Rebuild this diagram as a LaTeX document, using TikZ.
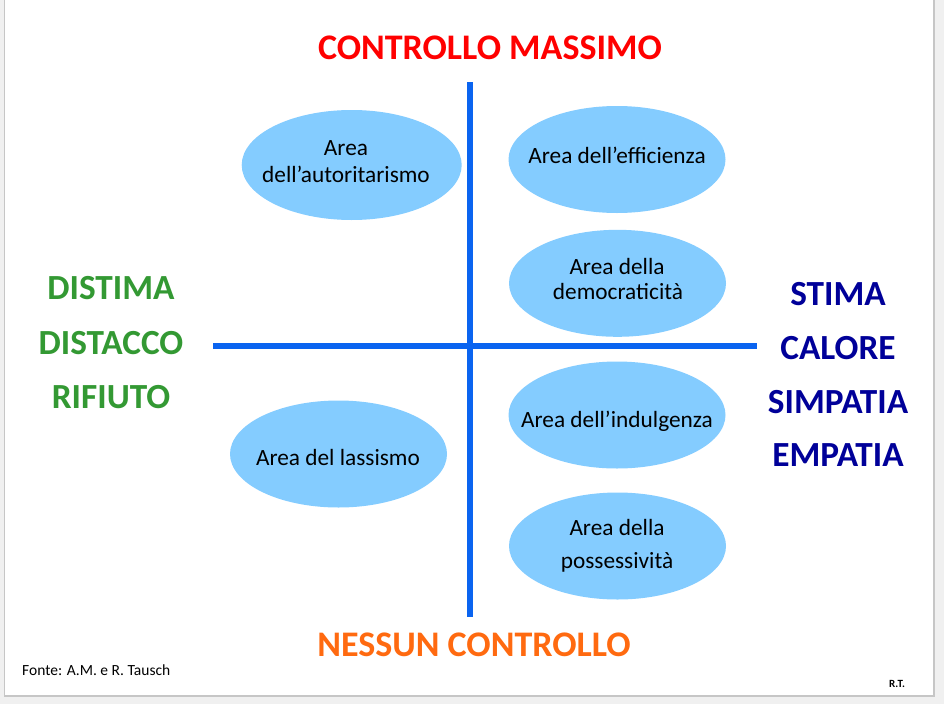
\documentclass[tikz,border=0pt]{standalone}
\usepackage{fontspec}
\setmainfont{Carlito}
\usetikzlibrary{shapes.geometric}
\definecolor{bgray}{HTML}{F0F0F0}
\definecolor{frameg}{HTML}{C6C6C6}
\definecolor{axisblue}{HTML}{0A64F0}
\definecolor{ellblue}{HTML}{84CCFF}
\definecolor{titlered}{HTML}{FF0000}
\definecolor{titleorange}{HTML}{FF6A10}
\definecolor{sidegreen}{HTML}{339933}
\definecolor{sidenavy}{HTML}{000099}
\tikzset{
  area/.style={ellipse, fill=ellblue, draw=none, minimum width=217pt, minimum height=107pt, inner sep=0pt},
  areatext/.style={anchor=base, inner sep=0pt, font=\fontsize{23.3}{28}\selectfont, text=black},
  axis/.style={draw=axisblue, line width=6pt},
  title/.style={anchor=base, font=\fontsize{36}{40}\selectfont\bfseries, inner sep=0pt},
  side/.style={anchor=base, font=\fontsize{35.3}{40}\selectfont\bfseries, inner sep=0pt}
}
\begin{document}
\begin{tikzpicture}[x=1pt,y=-1pt]
\useasboundingbox (0,0) rectangle (944,704);
\fill[bgray] (0,0) rectangle (944,704);
\draw[frameg, fill=white, line width=1.2pt] (4.5,-2) rectangle (934,696);

% axes
\coordinate (vtop) at (470,82);
\coordinate (vbot) at (470,617);
\coordinate (hl) at (213,346);
\coordinate (hr) at (757,346);
\draw[axis] (hl) -- (hr);
\draw[axis] (vtop) -- (vbot);

% titles
\node[title, text=titlered] (top) at (490,59.3) {CONTROLLO MASSIMO};
\node[title, text=titleorange] (bot) at (474,656) {NESSUN CONTROLLO};

% left labels
\node[side, text=sidegreen] (l1) at (111,299.3) {DISTIMA};
\node[side, text=sidegreen] (l2) at (111,354) {DISTACCO};
\node[side, text=sidegreen] (l3) at (111,408.3) {RIFIUTO};

% right labels
\node[side, text=sidenavy] (r1) at (838,305) {STIMA};
\node[side, text=sidenavy] (r2) at (838,359.3) {CALORE};
\node[side, text=sidenavy] (r3) at (838,413.3) {SIMPATIA};
\node[side, text=sidenavy] (r4) at (838,466.7) {EMPATIA};

% areas
\node[area, minimum width=220pt, minimum height=110pt] (aut) at (351.7,165) {};
\node[areatext] (autA) at (346,155) {Area};
\node[areatext] (autB) at (346,182.3) {dell’autoritarismo};

\node[area] (eff) at (617,159.5) {};
\node[areatext] (effA) at (617,163) {Area dell’efficienza};

\node[area] (dem) at (617.5,283.3) {};
\node[areatext] (demA) at (617,274.3) {Area della};
\node[areatext] (demB) at (618,299) {democraticità};

\node[area] (ind) at (617,415) {};
\node[areatext] (indA) at (617,427) {Area dell’indulgenza};

\node[area] (las) at (338.5,454) {};
\node[areatext] (lasA) at (338,465) {Area del lassismo};

\node[area] (pos) at (617.5,546) {};
\node[areatext] (posA) at (617,535) {Area della};
\node[areatext] (posB) at (617,568) {possessività};

% footer
\node[font=\fontsize{15.5}{18}\selectfont, anchor=base west, inner sep=0pt] (src) at (22,675) {Fonte: A.M. e R. Tausch};
\node[font=\fontsize{11}{13}\selectfont\bfseries, anchor=base west, inner sep=0pt] (rt) at (889,687.3) {R.T.};
\end{tikzpicture}
\end{document}
